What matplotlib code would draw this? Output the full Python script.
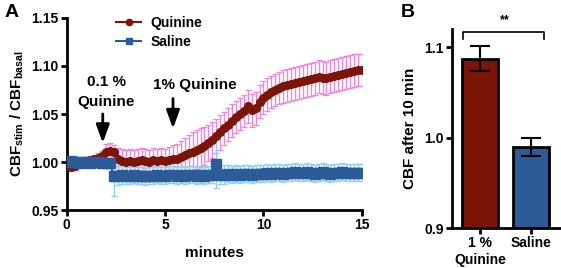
import numpy as np
import matplotlib
matplotlib.use("Agg")
import matplotlib.pyplot as plt

plt.rcParams["font.family"] = ["Liberation Sans", "DejaVu Sans"]
plt.rcParams["font.weight"] = "bold"
plt.rcParams["mathtext.fontset"] = "custom"
plt.rcParams["mathtext.rm"] = "Liberation Sans:bold"
plt.rcParams["mathtext.bf"] = "Liberation Sans:bold"

# time course, 0.2 min sampling
minutes = np.round(np.arange(0, 15.01, 0.2), 1)
quinine = [0.996, 0.995, 0.996, 0.998, 0.999, 1.001, 1.002, 1.003, 1.004, 1.006,
           1.011, 1.012, 1.010, 1.003, 1.001, 1.000, 1.001, 1.000, 1.001, 1.002,
           1.001, 1.000, 1.002, 1.001, 1.002, 1.001, 1.002, 1.003, 1.003, 1.005,
           1.007, 1.009, 1.011, 1.013, 1.015, 1.017, 1.020, 1.023, 1.027, 1.031,
           1.035, 1.039, 1.043, 1.047, 1.050, 1.053, 1.058, 1.054, 1.056, 1.063,
           1.067, 1.070, 1.073, 1.075, 1.077, 1.079, 1.080, 1.081, 1.082, 1.083,
           1.084, 1.085, 1.086, 1.087, 1.089, 1.088, 1.087, 1.089, 1.090, 1.091,
           1.092, 1.093, 1.094, 1.095, 1.096, 1.096]
quinine_sem = [0.004, 0.004, 0.004, 0.004, 0.004, 0.004, 0.004, 0.004, 0.005, 0.006,
               0.008, 0.008, 0.008, 0.012, 0.013, 0.013, 0.013, 0.013, 0.013, 0.013,
               0.013, 0.013, 0.013, 0.013, 0.013, 0.013, 0.014, 0.015, 0.016, 0.017,
               0.018, 0.019, 0.020, 0.020, 0.020, 0.020, 0.019, 0.019, 0.018, 0.018,
               0.017, 0.017, 0.017, 0.017, 0.017, 0.017, 0.017, 0.017, 0.017, 0.017,
               0.017, 0.017, 0.017, 0.017, 0.017, 0.017, 0.017, 0.017, 0.017, 0.017,
               0.017, 0.017, 0.017, 0.017, 0.017, 0.017, 0.017, 0.017, 0.017, 0.017,
               0.017, 0.017, 0.017, 0.017, 0.017, 0.017]
saline = [1.000, 1.001, 1.000, 0.999, 1.000, 1.000, 0.999, 1.000, 1.000, 0.999,
          0.999, 0.999, 0.985, 0.986, 0.987, 0.986, 0.986, 0.987, 0.986, 0.986,
          0.985, 0.986, 0.986, 0.987, 0.986, 0.986, 0.987, 0.987, 0.986, 0.987,
          0.986, 0.987, 0.987, 0.986, 0.987, 0.986, 0.987, 0.987, 0.998, 0.987,
          0.987, 0.988, 0.987, 0.988, 0.987, 0.988, 0.988, 0.987, 0.988, 0.988,
          0.988, 0.989, 0.988, 0.989, 0.989, 0.988, 0.989, 0.989, 0.990, 0.989,
          0.989, 0.990, 0.989, 0.988, 0.989, 0.990, 0.989, 0.988, 0.989, 0.989,
          0.990, 0.989, 0.989, 0.989, 0.989, 0.989]
saline_sem = [0.003, 0.003, 0.003, 0.003, 0.003, 0.003, 0.003, 0.003, 0.003, 0.003,
              0.003, 0.003, 0.020, 0.010, 0.010, 0.009, 0.009, 0.009, 0.009, 0.009,
              0.009, 0.009, 0.009, 0.009, 0.009, 0.009, 0.009, 0.009, 0.009, 0.009,
              0.009, 0.009, 0.009, 0.009, 0.009, 0.009, 0.009, 0.009, 0.025, 0.010,
              0.010, 0.009, 0.009, 0.009, 0.009, 0.009, 0.009, 0.009, 0.009, 0.009,
              0.009, 0.009, 0.009, 0.009, 0.009, 0.009, 0.009, 0.009, 0.009, 0.009,
              0.009, 0.009, 0.009, 0.009, 0.009, 0.009, 0.009, 0.009, 0.009, 0.009,
              0.009, 0.009, 0.009, 0.009, 0.009, 0.009]

# panel B
groups = ["1 %\nQuinine", "Saline"]
cbf_10min = [1.087, 0.990]
cbf_10min_sem = [0.014, 0.010]

RED = "#7a1508"
PINK = "#e88ad8"
BLUE = "#2d5b98"
LIGHTBLUE = "#8fd0f5"

fig = plt.figure(figsize=(5.61, 2.68), dpi=100)
axA = fig.add_axes([0.119, 0.216, 0.526, 0.717])
axB = fig.add_axes([0.806, 0.149, 0.192, 0.743])

# --- panel A
axA.errorbar(minutes, quinine, yerr=quinine_sem, fmt="none", ecolor=PINK,
             elinewidth=1, capsize=2, capthick=1, zorder=1)
axA.errorbar(minutes, saline, yerr=saline_sem, fmt="none", ecolor=LIGHTBLUE,
             elinewidth=1, capsize=2, capthick=1, zorder=2)
axA.plot(minutes, quinine, "o-", color=RED, ms=5.5, lw=1.5, label="Quinine", zorder=3)
axA.plot(minutes, saline, "s-", color=BLUE, ms=7, lw=1.5, label="Saline", zorder=4)

axA.set_xlim(0, 15)
axA.set_ylim(0.95, 1.15)
axA.set_xticks([0, 5, 10, 15])
axA.set_yticks([0.95, 1.00, 1.05, 1.10, 1.15])
axA.set_yticklabels(["0.95", "1.00", "1.05", "1.10", "1.15"])
axA.set_xlabel("minutes", fontsize=11, fontweight="bold", labelpad=10)
axA.set_ylabel(r"CBF$_{\mathrm{stim}}$ / CBF$_{\mathrm{basal}}$", fontsize=11,
               fontweight="bold", labelpad=4)
leg = axA.legend(loc="upper left", bbox_to_anchor=(0.125, 1.075), frameon=False,
                 handlelength=1.8, handletextpad=0.7, labelspacing=0.35,
                 prop={"weight": "bold", "size": 10})
for h in leg.legend_handles:
    h.set_markersize(4.5)

arrow = dict(arrowstyle="-|>,head_width=0.4,head_length=1.1", color="black", lw=2)
axA.annotate("", xy=(1.83, 1.017), xytext=(1.83, 1.053), arrowprops=arrow)
axA.text(2.0, 1.083, "0.1 %", ha="center", va="center", fontsize=11, fontweight="bold")
axA.text(2.0, 1.063, "Quinine", ha="center", va="center", fontsize=11, fontweight="bold")
axA.annotate("", xy=(5.4, 1.032), xytext=(5.4, 1.069), arrowprops=arrow)
axA.text(6.5, 1.080, "1% Quinine", ha="center", va="center", fontsize=11, fontweight="bold")

# --- panel B
xb = np.arange(len(groups))
axB.bar(xb, [v - 0.9 for v in cbf_10min], bottom=0.9, width=0.7,
        color=[RED, BLUE], edgecolor="black", lw=2, zorder=2)
axB.errorbar(xb, cbf_10min, yerr=cbf_10min_sem, fmt="none", ecolor="black",
             elinewidth=1.5, capsize=7, capthick=1.5, zorder=3)
axB.set_xlim(-0.544, 1.553)
axB.set_ylim(0.9, 1.12)
axB.set_yticks([0.9, 1.0, 1.1])
axB.set_xticks(xb)
axB.set_xticklabels(groups, fontsize=10, fontweight="bold")
axB.set_ylabel("CBF after 10 min", fontsize=11, fontweight="bold", labelpad=5)
axB.plot([-0.33, -0.33, 1.25, 1.25], [1.109, 1.117, 1.117, 1.109], color="black",
         lw=1.2, clip_on=False)
axB.text(0.49, 1.130, "**", ha="center", va="center", fontsize=9, fontweight="bold")

for ax in (axA, axB):
    for side in ("top", "right"):
        ax.spines[side].set_visible(False)
    for side in ("left", "bottom"):
        ax.spines[side].set_linewidth(2)
    ax.tick_params(width=2, length=4, labelsize=10, pad=2)
    for lab in ax.get_xticklabels() + ax.get_yticklabels():
        lab.set_fontweight("bold")

fig.text(0.008, 0.955, "A", fontsize=14, fontweight="bold", va="center")
fig.text(0.715, 0.955, "B", fontsize=14, fontweight="bold", va="center")

fig.savefig("out.png", dpi=100)
